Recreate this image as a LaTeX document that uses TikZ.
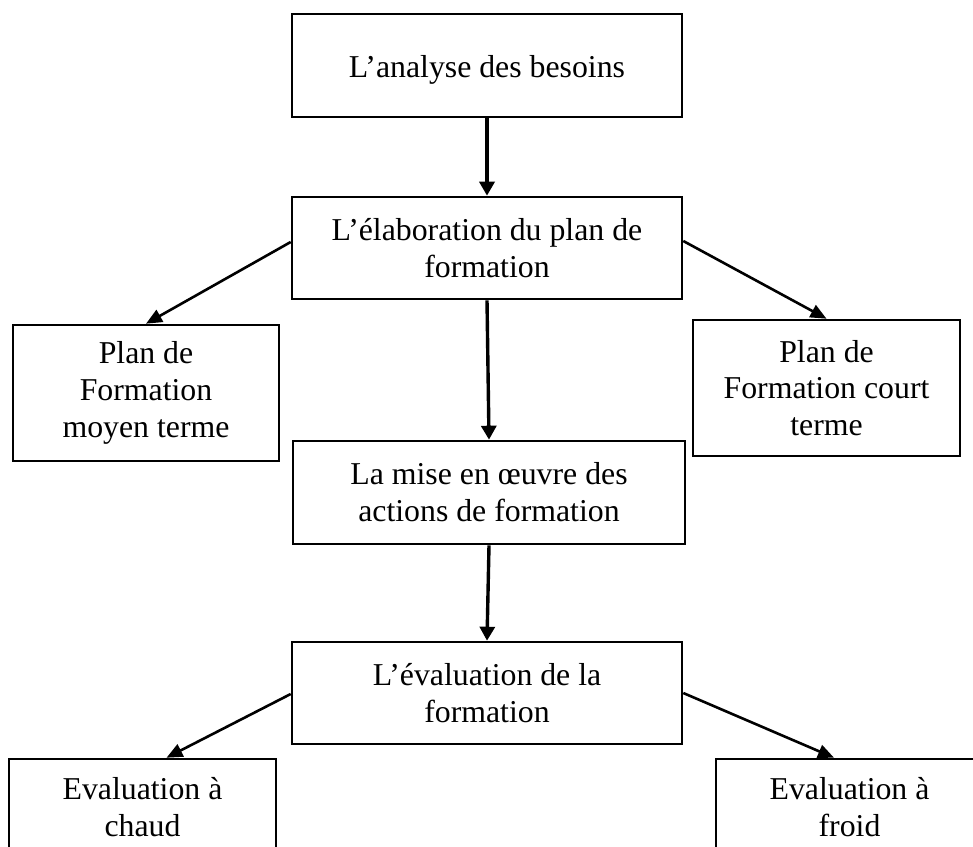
\documentclass[tikz,border=0pt]{standalone}
\usepackage{fontspec}
\setmainfont{Liberation Serif}
\usetikzlibrary{arrows.meta}
\begin{document}
\begin{tikzpicture}[x=1pt,y=-1pt,
  stage/.style n args={2}{draw=black, line width=2.6pt, fill=white,
    inner sep=0pt, align=center,
    font=\fontsize{31.8}{36.8}\selectfont,
    minimum width=#1pt, minimum height=#2pt},
  vflow/.style={line width=3.4pt, -{Triangle[length=14pt,width=15pt]}},
  dflow/.style={line width=2.6pt, -{Triangle[length=16pt,width=13.5pt]}}
]
\clip (0,0) rectangle (973,846);

% stages of the training process
\node[stage={390}{103}, text height=26pt, text depth=3pt] (needs) at (487,65.5) {L’analyse des besoins};
\node[stage={390}{102}] (plan) at (487,248) {L’élaboration du plan de\\formation};
\node[stage={266}{136}] (medium) at (146,393) {Plan de\\Formation\\moyen terme};
\node[stage={267}{136}] (short) at (826.5,388) {Plan de\\Formation court\\terme};
\node[stage={392}{103}] (actions) at (489,492.5) {La mise en œuvre des\\actions de formation};
\node[stage={390}{102}] (evaluation) at (487,693) {L’évaluation de la\\formation};
\node[stage={267}{96}] (hot) at (142.5,807) {Evaluation à\\chaud};
\node[stage={267}{96}] (cold) at (849.5,807) {Evaluation à\\froid};

% main sequence
\draw[vflow] (needs.south) -- (plan.north);
\draw[vflow] (plan.south) -- (actions.north);
\draw[vflow] (actions.south) -- (evaluation.north);

% branches
\draw[dflow] ([yshift=6pt]plan.west) -- (medium.north);
\draw[dflow] ([yshift=7pt]plan.east) -- (short.north);
\draw[dflow] ([yshift=-1pt]evaluation.west) -- ([xshift=24pt]hot.north);
\draw[dflow] (evaluation.east) -- ([xshift=-15.5pt]cold.north);
\end{tikzpicture}
\end{document}
